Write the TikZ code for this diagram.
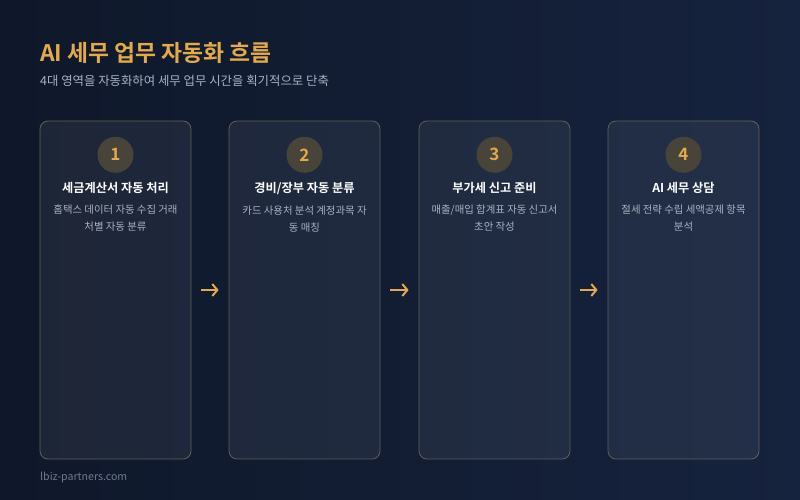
\documentclass[tikz,border=0pt]{standalone}
\usepackage{fontspec}
\setmainfont{Noto Sans CJK KR}[BoldFont={Noto Sans CJK KR Bold}]
\usepackage{tikz}
\usetikzlibrary{positioning,arrows.meta}
\definecolor{bg_dark}{RGB}{15,24,42}
\definecolor{bg_blue}{RGB}{22,35,62}
\definecolor{gold}{RGB}{226,170,72}
\definecolor{num_fill}{RGB}{72,68,58}
\definecolor{card_edge}{RGB}{105,100,88}
\definecolor{sub_gray}{RGB}{168,178,194}
\definecolor{foot_gray}{RGB}{110,122,145}

\tikzset{
  card/.style={draw=card_edge, fill=white, fill opacity=0.06, draw opacity=0.9,
    rounded corners=8pt, minimum width=151pt, minimum height=338pt, line width=0.8pt},
  numcirc/.style={circle, fill=num_fill, minimum size=36pt, inner sep=0pt,
    text=gold, font=\bfseries\fontsize{17}{17}\selectfont},
  cardtitle/.style={text=white, inner sep=0pt, font=\bfseries\fontsize{12.2}{14}\selectfont},
  carddesc/.style={text=sub_gray, inner sep=0pt, align=center,
    font=\fontsize{10.4}{17}\selectfont},
  flowarrow/.style={draw=gold, line width=2pt, -{Straight Barb[length=5pt,width=12pt]},
    shorten >=10pt, shorten <=10pt}
}

\begin{document}
\begin{tikzpicture}[x=1pt, y=-1pt]
    \useasboundingbox (0,0) rectangle (800,500);
    % Background
    \shade[left color=bg_dark, right color=bg_blue] (0,0) rectangle (800,500);

    % Heading
    \node[anchor=west, inner sep=0pt, text=gold, font=\bfseries\fontsize{22.8}{26}\selectfont]
        (title) at (40,53) {AI 세무 업무 자동화 흐름};
    \node[anchor=west, inner sep=0pt, text=sub_gray, font=\fontsize{12.4}{14}\selectfont]
        (subtitle) at (40,81) {4대 영역을 자동화하여 세무 업무 시간을 획기적으로 단축};

    % Cards
    \node[card] (card1) at (115.5,290) {};
    \node[card] (card2) at (304.5,290) {};
    \node[card] (card3) at (494.5,290) {};
    \node[card] (card4) at (683.5,290) {};

    % Step numbers
    \node[numcirc, below=16pt of card1.north] (num1) {1};
    \node[numcirc, below=16pt of card2.north] (num2) {2};
    \node[numcirc, below=16pt of card3.north] (num3) {3};
    \node[numcirc, below=16pt of card4.north] (num4) {4};

    % Step titles
    \node[cardtitle, below=9pt of num1] (head1) {세금계산서 자동 처리};
    \node[cardtitle, below=9pt of num2] (head2) {경비/장부 자동 분류};
    \node[cardtitle, below=9pt of num3] (head3) {부가세 신고 준비};
    \node[cardtitle, below=9pt of num4] (head4) {AI 세무 상담};

    % Step descriptions
    \node[carddesc, below=11pt of head1] (desc1) {홈택스 데이터 자동 수집 거래\\처별 자동 분류};
    \node[carddesc, below=11pt of head2] (desc2) {카드 사용처 분석 계정과목 자\\동 매칭};
    \node[carddesc, below=11pt of head3] (desc3) {매출/매입 합계표 자동 신고서\\초안 작성};
    \node[carddesc, below=11pt of head4] (desc4) {절세 전략 수립 세액공제 항목\\분석};

    % Flow arrows
    \draw[flowarrow] (card1.east) -- (card2.west);
    \draw[flowarrow] (card2.east) -- (card3.west);
    \draw[flowarrow] (card3.east) -- (card4.west);

    % Footer
    \node[anchor=west, inner sep=0pt, text=foot_gray, font=\fontsize{10.6}{12}\selectfont]
        (footer) at (40,477) {lbiz-partners.com};
\end{tikzpicture}
\end{document}
